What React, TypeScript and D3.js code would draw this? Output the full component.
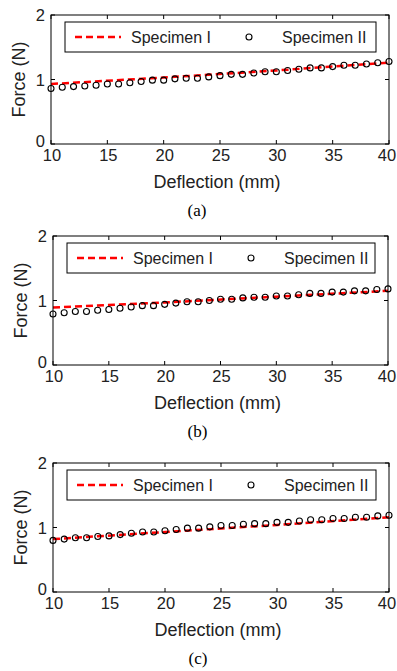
import * as d3 from "d3";
import React from "react";

// deflection values for the markers (mm)
const deflection = d3.range(10, 41);
// dashed line samples
const lineX = [10, 20, 30, 40];

const specI_a = [0.93, 1.03, 1.14, 1.26];
const specII_a = [
  0.86, 0.88, 0.89, 0.9, 0.91, 0.93, 0.93, 0.95, 0.97, 0.99, 0.99, 1.01, 1.02, 1.02, 1.04, 1.06,
  1.08, 1.08, 1.1, 1.12, 1.12, 1.14, 1.16, 1.18, 1.18, 1.2, 1.22, 1.22, 1.24, 1.26, 1.28,
];
const specI_b = [0.89, 0.97, 1.06, 1.15];
const specII_b = [
  0.79, 0.81, 0.83, 0.83, 0.85, 0.86, 0.88, 0.9, 0.92, 0.92, 0.94, 0.96, 0.98, 0.98, 1.0, 1.02,
  1.02, 1.04, 1.05, 1.05, 1.07, 1.07, 1.09, 1.11, 1.11, 1.13, 1.13, 1.15, 1.15, 1.17, 1.18,
];
const specI_c = [0.82, 0.93, 1.04, 1.16];
const specII_c = [
  0.8, 0.82, 0.84, 0.84, 0.86, 0.87, 0.89, 0.91, 0.93, 0.93, 0.95, 0.97, 0.99, 0.99, 1.01, 1.03,
  1.03, 1.05, 1.06, 1.06, 1.08, 1.08, 1.1, 1.12, 1.12, 1.14, 1.14, 1.16, 1.16, 1.18, 1.19,
];

const xTicks = [10, 15, 20, 25, 30, 35, 40];
const yTicks = [0, 1, 2];
const legendNames = ["Specimen I", "Specimen II"];
const captions = ["(a)", "(b)", "(c)"];

const FONT = "Liberation Sans, Arial, sans-serif";

interface PanelProps {
  top: number;
  left: number;
  right: number;
  lineY: number[];
  markY: number[];
  caption: string;
}

const Panel: React.FC<PanelProps> = ({ top, left, right, lineY, markY, caption }) => {
  const height = 129;
  const bottom = top + height;
  const x = d3.scaleLinear().domain([10, 40]).range([left, right]);
  const y = d3.scaleLinear().domain([0, 2]).range([bottom, top]);
  const line = d3
    .line<number>()
    .x((_, i) => x(lineX[i]))
    .y((d) => y(d));
  const tick = 4;
  const legTop = top + 7;
  const legLeft = left + 14;
  const legRight = right - 13;
  const legMid = legTop + 15;

  return (
    <g>
      {/* red dashed curve */}
      <path d={line(lineY) || ""} fill="none" stroke="#ff0000" strokeWidth={2.5} strokeDasharray="7,4" />
      {markY.map((v, i) => (
        <circle key={i} cx={x(deflection[i])} cy={y(v)} r={3} fill="none" stroke="#000" strokeWidth={1.1} />
      ))}
      <rect x={left} y={top} width={right - left} height={height} fill="none" stroke="#000" strokeWidth={1} />
      {xTicks.map((t) => (
        <g key={t}>
          <line x1={x(t)} x2={x(t)} y1={bottom} y2={bottom - tick} stroke="#000" />
          <line x1={x(t)} x2={x(t)} y1={top} y2={top + tick} stroke="#000" />
          <text
            x={Math.min(x(t) + 1, 387)}
            y={bottom + 17}
            textAnchor="middle"
            fontSize={16.5}
            fontFamily={FONT}
            fill="#222"
          >
            {t}
          </text>
        </g>
      ))}
      {yTicks.map((t) => (
        <g key={t}>
          <line x1={left} x2={left + tick} y1={y(t)} y2={y(t)} stroke="#000" />
          <line x1={right} x2={right - tick} y1={y(t)} y2={y(t)} stroke="#000" />
          <text
            x={left - 6}
            y={y(t) + (t === 0 ? 3 : 6)}
            textAnchor="end"
            fontSize={16.5}
            fontFamily={FONT}
            fill="#222"
          >
            {t}
          </text>
        </g>
      ))}
      <text
        x={(left + right) / 2 - 3}
        y={bottom + 44}
        textAnchor="middle"
        fontSize={18}
        fontFamily={FONT}
        fill="#222"
      >
        Deflection (mm)
      </text>
      <text
        transform={`translate(${left - 26},${(top + bottom) / 2}) rotate(-90)`}
        textAnchor="middle"
        fontSize={18}
        fontFamily={FONT}
        fill="#222"
      >
        Force (N)
      </text>
      {/* legend */}
      <rect x={legLeft} y={legTop} width={legRight - legLeft} height={30} fill="#fff" stroke="#000" strokeWidth={1} />
      <line x1={legLeft + 10} x2={legLeft + 56} y1={legMid} y2={legMid} stroke="#ff0000" strokeWidth={2.5} strokeDasharray="7,4" />
      <text x={legLeft + 66} y={legMid + 6} fontSize={16} fontFamily={FONT} fill="#222">
        {legendNames[0]}
      </text>
      <circle cx={legLeft + 184} cy={legMid} r={3} fill="none" stroke="#000" strokeWidth={1.1} />
      <text x={legLeft + 217} y={legMid + 6} fontSize={16} fontFamily={FONT} fill="#222">
        {legendNames[1]}
      </text>
      <text
        x={(left + right) / 2 - 23}
        y={bottom + 72}
        textAnchor="middle"
        fontSize={17}
        fontFamily="Liberation Serif, Times New Roman, serif"
        fill="#000"
      >
        {caption}
      </text>
    </g>
  );
};

export default function App() {
  return (
    <svg width={397} height={671} style={{ position: "absolute", left: 0, top: 0, background: "#fff" }}>
      <rect width={397} height={671} fill="#fff" />
      <Panel top={15} left={51} right={389} lineY={specI_a} markY={specII_a} caption={captions[0]} />
      <Panel top={236} left={53} right={388} lineY={specI_b} markY={specII_b} caption={captions[1]} />
      <Panel top={463} left={53} right={389} lineY={specI_c} markY={specII_c} caption={captions[2]} />
    </svg>
  );
}
